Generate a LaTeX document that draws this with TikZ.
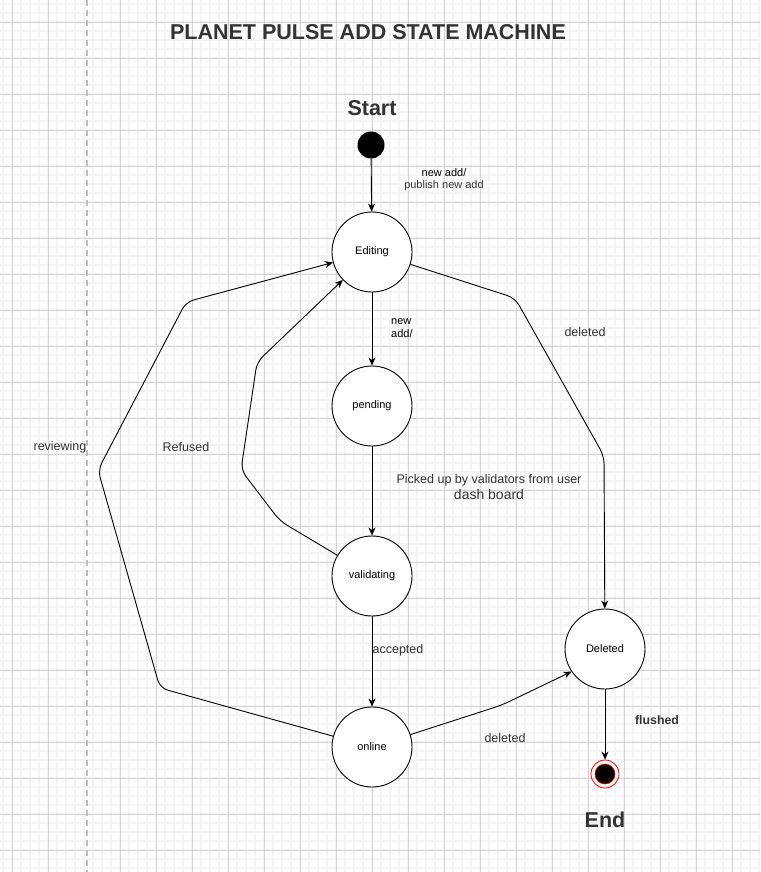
\documentclass[tikz,border=0pt]{standalone}
\usepackage{fontspec}
\setmainfont{Liberation Sans}
\usetikzlibrary{arrows.meta}
\definecolor{gridmajor}{HTML}{D3D3D3}
\definecolor{gridminor}{HTML}{F4F4F4}
\definecolor{inkgray}{HTML}{333333}
\definecolor{dashgray}{HTML}{BDBDBD}

\begin{document}
\begin{tikzpicture}[x=1pt, y=-1pt, >={Stealth[length=8pt,width=7pt,inset=2.5pt]}]
    \tikzset{
        state/.style={circle, draw, line width=0.9pt, fill=white, minimum size=80pt, inner sep=0pt, font=\fontsize{11}{13}\selectfont},
        edge/.style={->, line width=0.9pt, rounded corners=8pt},
        lbl/.style={text=inkgray, font=\fontsize{12.5}{15}\selectfont},
        small/.style={font=\fontsize{11}{13}\selectfont},
        heading/.style={text=inkgray, font=\fontsize{21.5}{25}\selectfont\bfseries}
    }
    \useasboundingbox (0,0) rectangle (760,872);
    \fill[white] (0,0) rectangle (760,872);

    % grid
    \foreach \x in {3,12,...,759} \draw[gridminor, line width=1.2pt] (\x,0) -- (\x,872);
    \foreach \y in {4,13,...,871} \draw[gridminor, line width=1.2pt] (0,\y) -- (760,\y);
    \foreach \x in {12,48,120,156,...,759} \draw[gridmajor, line width=0.8pt] (\x,0) -- (\x,872);
    \foreach \y in {22,58,...,871} \draw[gridmajor, line width=0.8pt] (0,\y) -- (760,\y);
    \draw[dashgray, line width=2pt, dash pattern=on 6pt off 4pt] (86.5,0) -- (86.5,872);

    \node[heading] (title) at (368,32) {PLANET PULSE ADD STATE MACHINE};
    \node[heading] (starttxt) at (372,108) {Start};
    \node[heading] (endtxt) at (605,820) {End};

    \node[circle, fill=black, minimum size=27pt, inner sep=0pt] (start) at (371,145) {};
    \node[state] (editing) at (372,252) {Editing};
    \node[state] (pending) at (372,406) {pending};
    \node[state] (validating) at (372,576) {validating};
    \node[state] (online) at (372,747) {online};
    \node[state] (deleted) at (605,649) {Deleted};
    \node[circle, draw=red, line width=0.8pt, minimum size=28pt, inner sep=0pt] (end) at (605,774) {};
    \node[circle, draw=red, fill=black, line width=0.6pt, minimum size=20pt, inner sep=0pt] (enddot) at (605,774) {};

    \draw[edge] (start) -- (editing);
    \draw[edge] (editing) -- (pending);
    \draw[edge] (pending) -- (validating);
    \draw[edge] (validating) -- (online);
    \draw[edge] (editing) -- (515,298) -- (604,456) -- (deleted);
    \draw[edge] (validating) -- (280,521) -- (241,470) -- (257,362) -- (editing);
    \draw[edge] (online) -- (160,688) -- (98,470) -- (186,302) -- (editing);
    \draw[edge] (online) -- (502,705) -- (deleted.214);
    \draw[edge] (deleted) -- (end);

    \node[small, align=center] (newadd) at (444,180) {new add/\\[-1pt]\textcolor{inkgray}{publish new add}};
    \node[small, align=left, anchor=west, inner sep=0pt] (newadd2) at (391,328.5) {new\\add/};
    \node[lbl] (deltop) at (585,332) {deleted};
    \node[lbl] (reviewing) at (60,447) {reviewing};
    \node[lbl] (refused) at (186,447) {Refused};
    \node[lbl, align=center] (picked) at (489,487) {Picked up by validators from user\\[1pt]{\fontsize{14}{16}\selectfont dash board}};
    \node[lbl] (accepted) at (398,650) {accepted};
    \node[lbl] (delbottom) at (505,738) {deleted};
    \node[lbl, font=\fontsize{12.3}{15}\selectfont\bfseries] (flushed) at (657,720) {flushed};
\end{tikzpicture}
\end{document}
